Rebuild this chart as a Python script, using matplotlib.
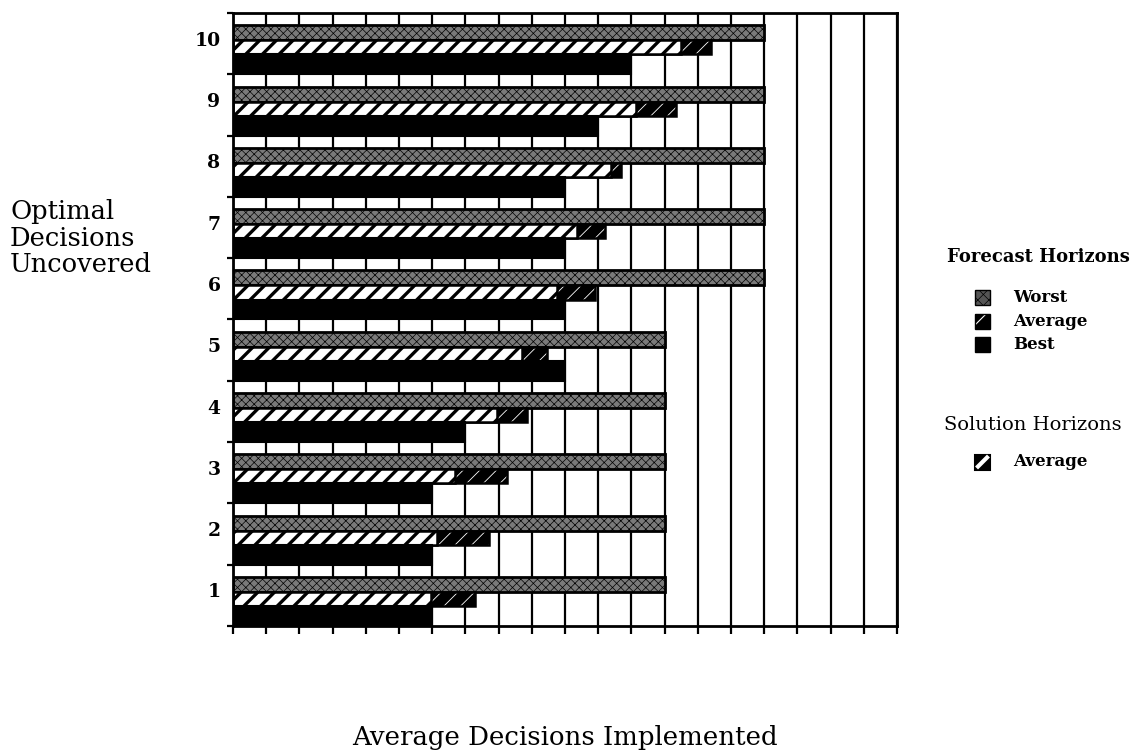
import numpy as np
import matplotlib.pyplot as plt
from matplotlib.patches import Rectangle
from matplotlib.lines import Line2D

plt.rcParams['font.family'] = 'DejaVu Serif'

# data (x units = decisions implemented)
groups = np.arange(1, 11)
worst = [13, 13, 13, 13, 13, 16, 16, 16, 16, 16]
fc_average = [7.3, 7.7, 8.25, 8.85, 9.45, 10.9, 11.2, 11.7, 13.35, 14.4]
sol_average = [5.95, 6.15, 6.7, 7.95, 8.7, 9.75, 10.35, 11.4, 12.15, 13.5]
best = [6, 6, 6, 7, 10, 10, 10, 10, 11, 12]
ylabels = [str(g) for g in groups]

# bar rows inside each group (from top: gap, worst, average, best)
h_gap, h_worst, h_avg, h_best = 0.2, 0.245, 0.23, 0.325
y_worst = groups + 0.5 - h_gap - h_worst / 2
y_avg = groups + 0.5 - h_gap - h_worst - h_avg / 2
y_best = groups - 0.5 + h_best / 2

fig = plt.figure(figsize=(11.35, 7.55), dpi=100)
ax = fig.add_axes([233/1135, 1-626/755, (897-233)/1135, (626-13)/755])

ax.set_axisbelow(True)
ax.xaxis.grid(True, color='black', lw=1.6)

# worst forecast horizon: stippled
ax.barh(y_worst, worst, height=h_worst, color='#7a7a7a', edgecolor='black',
        hatch='xxxx', lw=2, hatch_linewidth=0.5)
# average forecast horizon: black with sparse white slashes
ax.barh(y_avg, fc_average, height=h_avg, color='black', edgecolor='white',
        hatch='//', lw=0, hatch_linewidth=0.6)
ax.barh(y_avg, fc_average, height=h_avg, fill=False, edgecolor='black', lw=1.8)
# average solution horizon: bold white/black stripes
ax.barh(y_avg, sol_average, height=h_avg, color='white', edgecolor='black',
        hatch='//', lw=1.8, hatch_linewidth=2.4)
# best forecast horizon: solid black
ax.barh(y_best, best, height=h_best, color='black', edgecolor='black', lw=1.5)

ax.set_xlim(0, 20)
ax.set_ylim(0.5, 10.5)
ax.set_xticks(np.arange(0, 21))
ax.tick_params(axis='x', which='major', direction='out', length=6, width=1.6,
               labelbottom=False)
ax.set_yticks(np.arange(0.5, 11, 1))
ax.set_yticklabels([])
ax.tick_params(axis='y', which='major', direction='out', length=4, width=1.6)
ax.set_yticks(groups + 0.08, ylabels, minor=True)
ax.tick_params(axis='y', which='minor', length=0, pad=9, labelsize=13.5)
for t in ax.get_yticklabels(minor=True):
    t.set_fontweight('bold')
for s in ax.spines.values():
    s.set_linewidth(2)

fig.text(10/1135, 1-238/755, 'Optimal\nDecisions\nUncovered', ha='left',
         va='center', fontsize=18.5, linespacing=1.1)
fig.text(565/1135, 1-737/755, 'Average Decisions Implemented', ha='center',
         va='center', fontsize=18.7)

# legend
fig.text(947/1135, 1-257/755, 'Forecast Horizons', ha='left', va='center',
         fontsize=13, fontweight='bold')
fig.text(944/1135, 1-425/755, 'Solution Horizons', ha='left', va='center',
         fontsize=14)

sq = 15
x0 = 975
def legend_box(yc, **kw):
    r = Rectangle((x0/1135, (755-yc-sq/2)/755), sq/1135, sq/755,
                  transform=fig.transFigure, **kw)
    fig.add_artist(r)

legend_box(297, facecolor='#555555', edgecolor='black', hatch='xxx', lw=1,
           hatch_linewidth=0.5)
legend_box(321, facecolor='black', edgecolor='white', hatch='/', lw=0,
           hatch_linewidth=0.8)
legend_box(321, fill=False, edgecolor='black', lw=1)
legend_box(344, facecolor='black', edgecolor='black', lw=1)
legend_box(462, facecolor='black', edgecolor='black', lw=1.5)
fig.add_artist(Line2D([(x0+3)/1135, (x0+sq-3)/1135],
                      [(755-462-sq/2+3)/755, (755-462+sq/2-3)/755],
                      transform=fig.transFigure, color='white', lw=3))

for yc, txt in [(297, 'Worst'), (321, 'Average'), (344, 'Best'), (462, 'Average')]:
    fig.text(1013/1135, 1-yc/755, txt, ha='left', va='center', fontsize=12,
             fontweight='bold')

fig.savefig('out.png', dpi=100)
